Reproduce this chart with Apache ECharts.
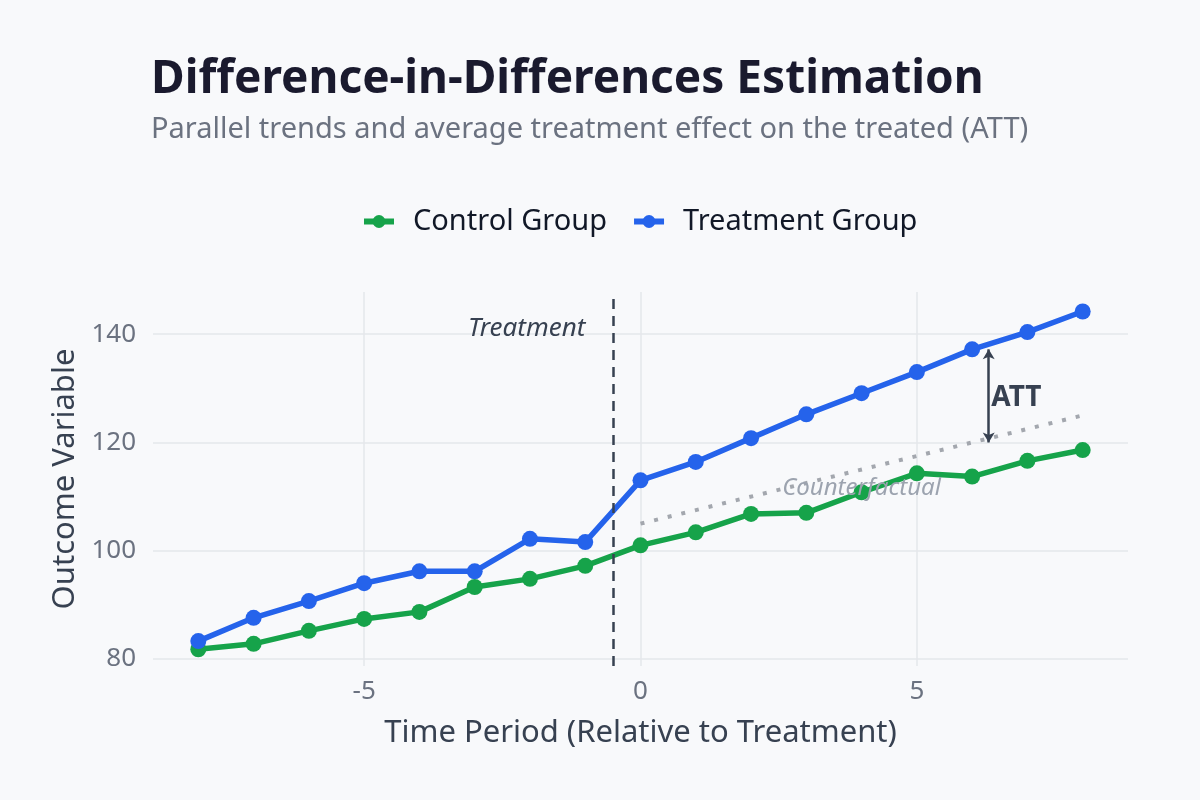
<!DOCTYPE html>
<html>
<head>
<meta charset="utf-8">
<title>Difference-in-Differences Estimation</title>
<script src="https://cdn.jsdelivr.net/npm/echarts@6/dist/echarts.min.js"></script>
<style>
  html, body { margin: 0; padding: 0; background: #f8f9fb; }
  #chart { width: 1200px; height: 800px; }
</style>
</head>
<body>
<div id="chart"></div>
<script>
// 时间（相对处理期）
const periods = [-8, -7, -6, -5, -4, -3, -2, -1, 0, 1, 2, 3, 4, 5, 6, 7, 8];
// 对照组
const controlValues = [81.8, 82.8, 85.2, 87.4, 88.7, 93.3, 94.8, 97.2, 101.0, 103.4, 106.8, 107.0, 110.8, 114.3, 113.7, 116.6, 118.6];
// 处理组
const treatmentValues = [83.3, 87.6, 90.7, 94.0, 96.2, 96.2, 102.2, 101.6, 113.0, 116.4, 120.8, 125.2, 129.1, 133.0, 137.2, 140.4, 144.2];
// 反事实（处理组若无处理）
const cfPeriods = [0, 8];
const cfValues = [105, 125];
// 处理时点
const treatmentTime = -0.5;
// ATT 箭头
const attPeriod = 6.3;
const attRange = [120, 137.2];
const xTicks = [-5, 0, 5];
const yTicks = [80, 100, 120, 140];

const chart = echarts.init(document.getElementById('chart'));

const zip = (xs, ys) => xs.map((x, i) => [x, ys[i]]);

// 文字标注（用透明小点承载 label）
const textMark = (coord, text, label) => ({
  symbol: 'circle',
  symbolSize: 1,
  itemStyle: { color: 'rgba(0,0,0,0)' },
  data: [{ coord: coord, value: text }],
  label: Object.assign({ show: true, formatter: text }, label)
});

const option = {
  backgroundColor: '#f8f9fb',
  textStyle: { fontFamily: 'Noto Sans' },
  title: {
    text: 'Difference-in-Differences Estimation',
    subtext: 'Parallel trends and average treatment effect on the treated (ATT)',
    left: 146,
    top: 52,
    itemGap: 12,
    textStyle: { fontSize: 46, fontWeight: 'bold', color: '#1a1a2e', fontFamily: 'Noto Sans' },
    subtextStyle: { fontSize: 29, color: '#6b7280', fontFamily: 'Noto Sans' }
  },
  legend: {
    data: ['Control Group', 'Treatment Group'],
    top: 202,
    left: 356,
    itemWidth: 30,
    itemHeight: 16,
    itemGap: 24,
    lineStyle: { width: 6 },
    textStyle: { fontSize: 29, color: '#111827', fontFamily: 'Noto Sans', padding: [0, 0, 0, 14] }
  },
  grid: { left: 153, right: 72, top: 292, bottom: 134 },
  xAxis: {
    type: 'value',
    min: -8.82,
    max: 8.82,
    minInterval: 5,
    maxInterval: 5,
    name: 'Time Period (Relative to Treatment)',
    nameLocation: 'middle',
    nameGap: 52,
    nameTextStyle: { fontSize: 31, color: '#374151' },
    axisLine: { show: false },
    axisTick: { show: false },
    axisLabel: {
      fontSize: 26, color: '#6b7280', margin: 13,
      formatter: v => (xTicks.indexOf(v) >= 0 ? String(v) : '')
    },
    splitLine: { show: true, showMinLine: false, showMaxLine: false, lineStyle: { color: '#e5e7eb', width: 1.5 } }
  },
  yAxis: {
    type: 'value',
    min: 78.7,
    max: 147.8,
    minInterval: 20,
    maxInterval: 20,
    name: 'Outcome Variable',
    nameLocation: 'middle',
    nameGap: 68,
    nameTextStyle: { fontSize: 31, color: '#374151' },
    axisLine: { show: false },
    axisTick: { show: false },
    axisLabel: {
      fontSize: 26, color: '#6b7280', margin: 17,
      formatter: v => (yTicks.indexOf(v) >= 0 ? String(v) : '')
    },
    splitLine: { show: true, showMinLine: false, showMaxLine: false, lineStyle: { color: '#e5e7eb', width: 1.5 } }
  },
  series: [
    {
      name: 'Counterfactual',
      type: 'line',
      data: zip(cfPeriods, cfValues),
      symbol: 'none',
      lineStyle: { color: '#a3a7ae', width: 4, type: [4, 10] },
      z: 1,
      silent: true,
      markPoint: textMark([4, 111.6], 'Counterfactual', {
        position: 'inside', fontSize: 24, fontStyle: 'italic', color: '#9ca3af'
      })
    },
    {
      name: 'Control Group',
      type: 'line',
      data: zip(periods, controlValues),
      symbol: 'circle',
      symbolSize: 16,
      itemStyle: { color: '#16a34a' },
      lineStyle: { color: '#16a34a', width: 5.5 },
      z: 3
    },
    {
      name: 'Treatment Group',
      type: 'line',
      data: zip(periods, treatmentValues),
      symbol: 'circle',
      symbolSize: 16,
      itemStyle: { color: '#2563eb' },
      lineStyle: { color: '#2563eb', width: 5.5 },
      z: 4,
      markLine: {
        silent: true,
        symbol: ['none', 'none'],
        label: { show: false },
        lineStyle: { color: '#374151', width: 2.5, type: [10, 7] },
        data: [{ xAxis: treatmentTime }]
      },
      markPoint: textMark([treatmentTime, 141.1], 'Treatment', {
        position: 'left', distance: 27, fontSize: 26, fontStyle: 'italic', color: '#374151'
      })
    },
    {
      name: 'ATT',
      type: 'line',
      data: [],
      markLine: {
        silent: true,
        symbol: ['arrow', 'arrow'],
        symbolSize: [9, 10],
        label: { show: false },
        lineStyle: { color: '#374151', width: 2.5, type: 'solid' },
        data: [[{ coord: [attPeriod, attRange[0]] }, { coord: [attPeriod, attRange[1]] }]]
      },
      markPoint: textMark([attPeriod, 128.2], 'ATT', {
        position: 'right', distance: 2, fontSize: 28, fontWeight: 'bold', color: '#374151'
      })
    }
  ]
};

chart.setOption(option);
</script>
</body>
</html>
